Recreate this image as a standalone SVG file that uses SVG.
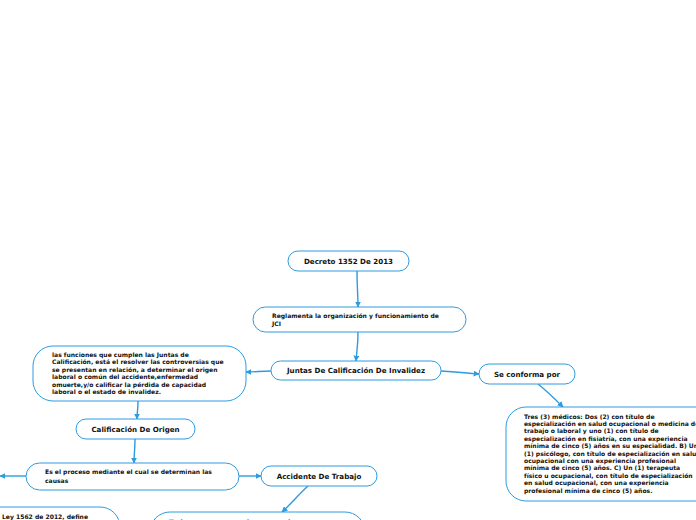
<svg xmlns="http://www.w3.org/2000/svg" width="696" height="520" viewBox="0 0 696 520">
<style>
.box{fill:#fff;stroke:#2d9be0;stroke-width:1}
.t{font-family:"DejaVu Sans",Verdana,sans-serif;font-weight:bold;fill:#111}
.h{font-size:7.1px}
.b{font-size:6.05px}
.c{fill:none;stroke:#2d9be0;stroke-width:1.4}
</style>
<defs>
<marker id="ar" viewBox="0 0 10 10" refX="9" refY="5" markerWidth="6" markerHeight="6" markerUnits="userSpaceOnUse" orient="auto">
<path d="M0,0 L10,5 L0,10 z" fill="#2d9be0"/>
</marker>
</defs>
<rect width="696" height="520" fill="#fff"/>
<g id="connectors">
<path class="c" d="M357,271 C357,290 358,292 358,307" marker-end="url(#ar)"/>
<path class="c" d="M358,332 C358,345 357,348 356,361" marker-end="url(#ar)"/>
<path class="c" d="M271,371 C260,371 256,372 246,372" marker-end="url(#ar)"/>
<path class="c" d="M441,371 C458,372 465,373 479,374" marker-end="url(#ar)"/>
<path class="c" d="M538,384 C548,392 554,398 563,407" marker-end="url(#ar)"/>
<path class="c" d="M138,401 C138,410 137,412 137,419" marker-end="url(#ar)"/>
<path class="c" d="M135,439 C135,450 134,454 134,463" marker-end="url(#ar)"/>
<path class="c" d="M26,476 C16,476 10,476 0,476" marker-end="url(#ar)"/>
<path class="c" d="M239,476 C248,476 252,476 261,476" marker-end="url(#ar)"/>
<path class="c" d="M308,486 C298,495 292,503 282,512" marker-end="url(#ar)"/>
</g>
<g id="n1"><rect class="box" x="288" y="251" width="121" height="20" rx="10"/><text class="t h" x="348.5" y="263.5" text-anchor="middle">Decreto 1352 De 2013</text></g>
<g id="n2"><rect class="box" x="253" y="307" width="213" height="25" rx="12.5"/><text class="t b"><tspan x="272" y="317.5">Reglamenta la organización y funcionamiento de</tspan><tspan x="272" y="325.5">JCI</tspan></text></g>
<g id="n3"><rect class="box" x="271" y="361" width="170" height="19" rx="9.5"/><text class="t h" x="356" y="373" text-anchor="middle">Juntas De Calificación De Invalidez</text></g>
<g id="n4"><rect class="box" x="33" y="346" width="213" height="55" rx="20"/><text class="t b"><tspan x="52" y="357">las funciones que cumplen las Juntas de</tspan><tspan x="52" y="364.4">Calificación, está el resolver las controversias que</tspan><tspan x="52" y="371.8">se presentan en relación, a determinar el origen</tspan><tspan x="52" y="379.2">laboral o común del accidente,enfermedad</tspan><tspan x="52" y="386.6">omuerte,y/o calificar la pérdida de capacidad</tspan><tspan x="52" y="394">laboral o el estado de invalidez.</tspan></text></g>
<g id="n5"><rect class="box" x="479" y="364" width="96" height="20" rx="10"/><text class="t h" x="527" y="376.5" text-anchor="middle">Se conforma por</text></g>
<g id="n6"><rect class="box" x="506" y="407" width="215" height="94" rx="20"/><text class="t b"><tspan x="524" y="418.5">Tres (3) médicos: Dos (2) con título de</tspan><tspan x="524" y="425.9">especialización en salud ocupacional o medicina de</tspan><tspan x="524" y="433.3">trabajo o laboral y uno (1) con título de</tspan><tspan x="524" y="440.7">especialización en fisiatría, con una experiencia</tspan><tspan x="524" y="448.1">mínima de cinco (5) años en su especialidad. B) Un</tspan><tspan x="524" y="455.5">(1) psicólogo, con título de especialización en salud</tspan><tspan x="524" y="462.9">ocupacional con una experiencia profesional</tspan><tspan x="524" y="470.3">mínima de cinco (5) años. C) Un (1) terapeuta</tspan><tspan x="524" y="477.7">físico u ocupacional, con título de especialización</tspan><tspan x="524" y="485.1">en salud ocupacional, con una experiencia</tspan><tspan x="524" y="492.5">profesional mínima de cinco (5) años.</tspan></text></g>
<g id="n7"><rect class="box" x="76" y="419" width="119" height="20" rx="10"/><text class="t h" x="135.5" y="431.5" text-anchor="middle">Calificación De Origen</text></g>
<g id="n8"><rect class="box" x="26" y="463" width="213" height="27" rx="13.5"/><text class="t b"><tspan x="45" y="474">Es el proceso mediante el cual se determinan las</tspan><tspan x="45" y="482.5">causas</tspan></text></g>
<g id="n9"><rect class="box" x="261" y="466" width="116" height="20" rx="10"/><text class="t h" x="319" y="478.5" text-anchor="middle">Accidente De Trabajo</text></g>
<g id="n10"><rect class="box" x="-100" y="507" width="220" height="60" rx="20"/><text class="t b" x="2" y="518.5">Ley 1562 de 2012, define</text></g>
<g id="n11"><rect class="box" x="150" y="512" width="215" height="60" rx="20"/><text class="t h" x="169" y="524.5">Todo suceso repentino que sobrevenga por causa o</text></g>
</svg>
